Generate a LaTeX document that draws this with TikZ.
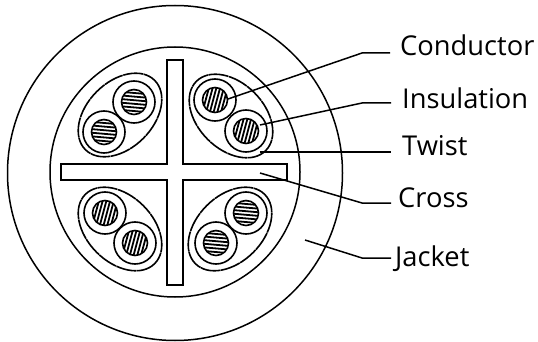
\documentclass[tikz,border=0pt]{standalone}
\usepackage{fontspec}
\setmainfont{Open Sans}
\usetikzlibrary{positioning}

% one twisted pair: centre, ellipse angle, wire 1, wire 2, hatch angle
\newcommand{\wirepair}[5]{
    \draw[twist, rotate around={#2:(#1)}] (#1) ellipse [x radius=49, y radius=33];
    \foreach \wire in {#3,#4} {
        \draw[wire] \wire circle [radius=21];
        \begin{scope}
            \clip \wire circle [radius=12.5];
            \foreach \off in {-12.6,-9,...,12.6}
                \draw[hatch, shift={\wire}, rotate=#5] (-14,\off) -- (14,\off);
        \end{scope}
        \draw[wire] \wire circle [radius=12.5];
    }
}

\begin{document}
\begin{tikzpicture}[
    x=1pt, y=-1pt,
    wire/.style={line width=1.6pt},
    twist/.style={line width=1.6pt, dash pattern=on 20pt off 0.6pt},
    hatch/.style={line width=1.8pt},
    sheath/.style={line width=1.5pt},
    leader/.style={line width=1.5pt},
    label/.style={anchor=base west, inner sep=0pt, font=\fontsize{27.3}{30}\selectfont}
]
    \useasboundingbox (0,0) rectangle (538,342);

    % Jacket and inner sheath
    \draw[sheath] (175,173) circle [radius=167.5];
    \draw[sheath] (175,172) circle [radius=125];

    % Cross
    \draw[wire] (167,60) -- (183,60) -- (183,164) -- (287,164) -- (287,180) -- (183,180)
        -- (183,285) -- (167,285) -- (167,180) -- (61,180) -- (61,164) -- (167,164) -- cycle;

    % Pairs
    \wirepair{120,115}{45}{(134,102)}{(104,132)}{-5}
    \wirepair{231,116}{-45}{(215,100)}{(246,131)}{75}
    \wirepair{120,229}{-45}{(105,213)}{(135,243)}{75}
    \wirepair{230,229}{45}{(246,213)}{(216,243)}{-5}

    % Labels
    \node[label] (conductor) at (400,56) {Conductor};
    \node[label] (insulation) at (402,109) {Insulation};
    \node[label] (twistlabel) at (402,155) {Twist};
    \node[label] (cross) at (398,207) {Cross};
    \node[label] (jacket) at (395,266) {Jacket};

    % Leaders
    \coordinate (condstart) at (228,99);
    \coordinate (insstart) at (260,125);
    \coordinate (twiststart) at (260,152);
    \coordinate (crossstart) at (260,173);
    \coordinate (jackstart) at (305,240);
    \coordinate (condbend) at (362,53);
    \coordinate (insbend) at (362,103);
    \coordinate (crossbend) at (362,203);
    \coordinate (jackbend) at (362,258);

    \draw[leader, shorten >=10pt] (condstart) -- (condbend) -- (condbend -| conductor.west);
    \draw[leader, shorten >=11pt] (insstart) -- (insbend) -- (insbend -| insulation.west);
    \draw[leader, shorten >=11pt] (twiststart) -- (twiststart -| twistlabel.west);
    \draw[leader, shorten >=7pt] (crossstart) -- (crossbend) -- (crossbend -| cross.west);
    \draw[leader, shorten >=4pt] (jackstart) -- (jackbend) -- (jackbend -| jacket.west);
\end{tikzpicture}
\end{document}
